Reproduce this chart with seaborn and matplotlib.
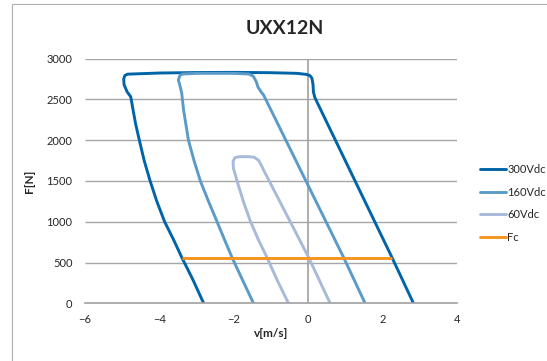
import matplotlib
matplotlib.use("Agg")
import matplotlib.pyplot as plt
import pandas as pd
import seaborn as sns
from matplotlib.patches import Rectangle

# curves, traced from bottom-left, over the top, down the right side
v_300 = [-2.81, -3.09, -3.40, -3.62, -3.86, -4.07, -4.25, -4.41, -4.54, -4.64, -4.70, -4.77,
         -4.87, -4.95, -4.96, -4.93, -4.86,
         -4.0, -3.0, -2.0, -1.0, -0.3, -0.05, 0.05, 0.10, 0.13, 0.14, 0.18, 2.25, 2.83]
f_300 = [0, 280, 564, 780, 1000, 1250, 1500, 1750, 2000, 2200, 2350, 2530,
         2593, 2680, 2750, 2790, 2808,
         2822, 2828, 2830, 2826, 2818, 2805, 2790, 2757, 2680, 2590, 2520, 564, 0]

v_160 = [-1.47, -1.76, -2.05, -2.25, -2.45, -2.68, -2.90, -3.07, -3.22, -3.35, -3.40, -3.44, -3.49,
         -3.45, -3.38, -3.0, -2.0, -1.6, -1.48, -1.40, -1.35, -1.27, -1.20, 0.95, 1.53]
f_160 = [0, 280, 564, 780, 1000, 1250, 1500, 1750, 2000, 2369, 2574, 2654, 2737,
         2790, 2810, 2818, 2818, 2810, 2785, 2720, 2650, 2593, 2553, 564, 0]

v_60 = [-0.53, -0.83, -1.11, -1.34, -1.55, -1.73, -1.88, -2.01, -2.02, -1.97, -1.85,
        -1.6, -1.45, -1.33, -1.27, -1.20, 0.01, 0.59]
f_60 = [0, 280, 564, 780, 1000, 1230, 1450, 1654, 1740, 1785, 1797,
        1797, 1790, 1750, 1700, 1634, 564, 0]

v_fc = [-3.40, 2.25]
f_fc = [560, 560]

series = ["300Vdc", "160Vdc", "60Vdc", "Fc"]
colors = {"300Vdc": "#0064A8", "160Vdc": "#5A9BC9", "60Vdc": "#A7BAD9", "Fc": "#F7931E"}
x_ticks = [-6, -4, -2, 0, 2, 4]
y_ticks = [0, 500, 1000, 1500, 2000, 2500, 3000]

frames = []
for name, v, f in zip(series, [v_300, v_160, v_60, v_fc], [f_300, f_160, f_60, f_fc]):
    frames.append(pd.DataFrame({"v": v, "F": f, "series": name}))
df = pd.concat(frames, ignore_index=True)

sns.set_theme(style="white")
plt.rcParams["font.family"] = ["Lato", "DejaVu Sans"]

fig = plt.figure(figsize=(5.47, 3.61), dpi=100)
ax = fig.add_axes([85 / 547, 1 - 303.3 / 361, 372 / 547, (303.3 - 58.5) / 361])

# chart border
fig.patches.append(Rectangle((11.5 / 547, -0.05), 1.1, 1 - 4 / 361 + 0.05, transform=fig.transFigure,
                             fill=False, edgecolor="#B0B0B0", linewidth=0.8))

for t in y_ticks[1:]:
    ax.axhline(t, color="#A6A6A6", linewidth=1.0, zorder=0)
ax.axvline(0, color="#A0A0A0", linewidth=1.2, zorder=0)

sns.lineplot(data=df, x="v", y="F", hue="series", hue_order=series, palette=colors,
             sort=False, estimator=None, linewidth=2.1, ax=ax, legend=False)
for line in ax.get_lines():
    line.set_solid_joinstyle("round")
    line.set_solid_capstyle("butt")

ax.set_xlim(-6, 4)
ax.set_ylim(0, 3000)
ax.set_xticks(x_ticks)
ax.set_yticks(y_ticks)
ax.tick_params(axis="x", direction="out", length=4, width=1, color="#A0A0A0", pad=4, labelsize=8)
ax.tick_params(axis="y", length=0, pad=9, labelsize=8)
for s in ["top", "right", "left"]:
    ax.spines[s].set_visible(False)
ax.spines["bottom"].set_color("#A0A0A0")
ax.spines["bottom"].set_linewidth(1.2)

ax.set_xlabel("v[m/s]", fontsize=8.5, fontweight="bold", labelpad=2)
ax.set_ylabel("F[N]", fontsize=8.5, fontweight="bold")
ax.yaxis.set_label_coords(-0.135, 0.5)

fig.text(285 / 547, 1 - 29 / 361, "UXX12N", ha="center", va="center", fontsize=14, fontweight="bold")

handles = [plt.Line2D([], [], color=colors[s], linewidth=2.1) for s in series]
fig.legend(handles, series, loc="upper left", bbox_to_anchor=(480 / 547, 1 - 164 / 361),
           frameon=False, fontsize=8, handlelength=2.3, handletextpad=0.15,
           labelspacing=1.05, borderpad=0, borderaxespad=0)

fig.savefig("out.png", dpi=100)
